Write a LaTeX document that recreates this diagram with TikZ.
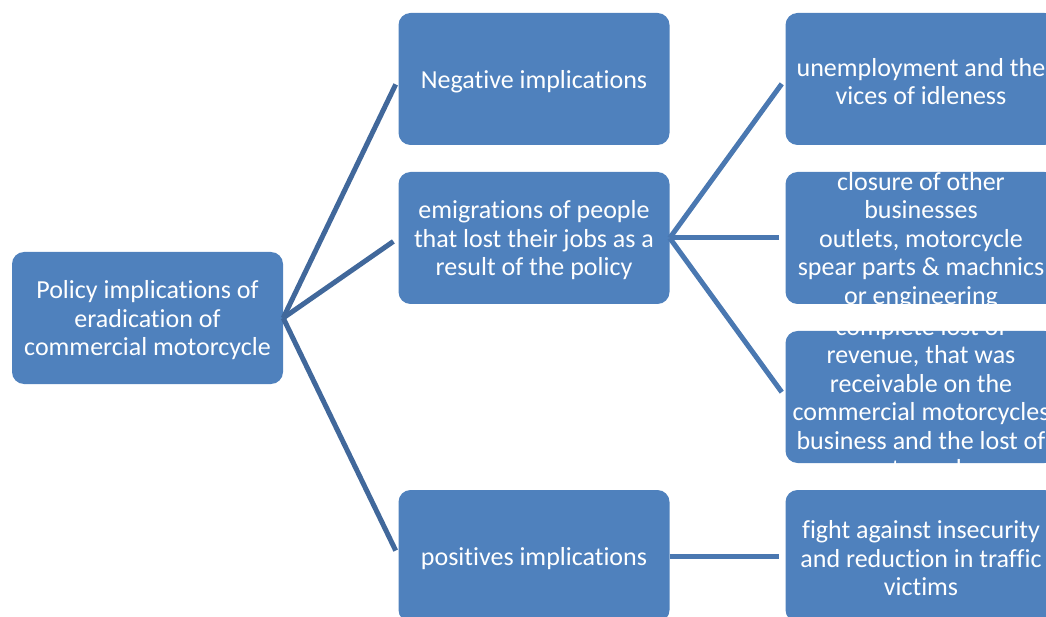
\documentclass[tikz,border=0pt]{standalone}
\usepackage{fontspec}
\setmainfont{Carlito}[Ligatures={NoCommon}]
\definecolor{boxblue}{HTML}{4F81BD}
\definecolor{linkA}{HTML}{41689B}
\definecolor{linkB}{HTML}{4A78B1}
\newcommand\mybox[4]{%
  \begin{scope}
    \clip (#2-135.5,#3-66) rectangle (#2+135.5,#3+66);
    \node[box, label={[boxtext]center:{#4}}] (#1) at (#2,#3) {};
  \end{scope}}
\begin{document}
\begin{tikzpicture}[x=1pt,y=-1pt,
  box/.style={fill=boxblue, rounded corners=12pt, minimum width=271pt,
    minimum height=132pt, inner sep=0pt},
  boxtext/.style={text=white, align=center, inner sep=0pt, yshift=-2.5pt,
    font=\fontsize{26}{28.5}\selectfont},
  connA/.style={line width=5pt, draw=linkA, shorten >=6pt},
  connB/.style={line width=5pt, draw=linkB, shorten >=6pt}]
\useasboundingbox (0,0) rectangle (1046,617);
\clip (0,0) rectangle (1046,617);
\mybox{root}{147.5}{318}{Policy implications of\\eradication of\\commercial motorcycle}
\mybox{n1}{534}{79}{Negative implications}
\mybox{n2}{534}{238}{emigrations of people\\that lost their jobs as a\\result of the policy}
\mybox{n3}{534}{556}{positives implications}
\mybox{c1}{921}{79}{unemployment and the\\vices of idleness}
\mybox{c2}{921}{238}{closure of other\\businesses\\outlets, motorcycle\\spear parts \& machnics\\or engineering}
\mybox{c3}{921}{397}{complete lost of\\revenue, that was\\receivable on the\\commercial motorcycles\\business  and the lost of\\motorcycles}
\mybox{c4}{921}{556}{fight against insecurity\\and reduction in traffic\\victims}
\draw[connA] (root.east) -- (n1.west);
\draw[connA] (root.east) -- (n2.west);
\draw[connA] (root.east) -- (n3.west);
\draw[connB] (n2.east) -- (c1.west);
\draw[connB] (n2.east) -- (c2.west);
\draw[connB] (n2.east) -- (c3.west);
\draw[connB] (n3.east) -- (c4.west);
\end{tikzpicture}
\end{document}
